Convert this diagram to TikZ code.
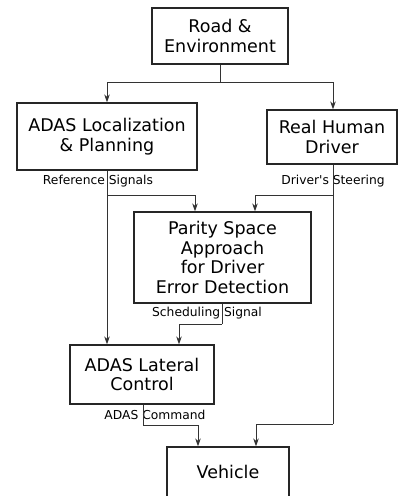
\documentclass[tikz,border=0pt]{standalone}
\usepackage{fontspec}
\setmainfont{DejaVu Sans}
\usetikzlibrary{arrows.meta}
\begin{document}
\begin{tikzpicture}[x=1pt,y=-1pt,
  txt/.style={inner sep=0pt,align=center,font=\fontsize{17.5}{19.5}\selectfont},
  blk/.style={txt,draw=black!85,line width=1.2pt},
  lbl/.style={inner sep=0pt,font=\fontsize{12.3}{14}\selectfont},
  ln/.style={draw=black!80,line width=1pt},
  arr/.style={ln,-{Stealth[length=8pt,width=5.5pt,inset=2.5pt]}}]
\useasboundingbox (0,0) rectangle (398,496);
\node[blk,minimum width=136pt,minimum height=56pt] (road) at (220,36) {Road \&\\Environment};
\node[blk,minimum width=180pt,minimum height=67pt] (loc) at (107,136.5) {ADAS Localization\\\& Planning};
\node[blk,minimum width=130pt,minimum height=54pt] (real) at (332,137) {Real Human\\Driver};
\node[blk,minimum width=177pt,minimum height=91pt] (par) at (222.5,257.5) {Parity Space\\Approach\\for Driver\\Error Detection};
\node[blk,minimum width=144pt,minimum height=59pt] (lat) at (142,374.5) {ADAS Lateral\\Control};
\node[blk,minimum width=122pt,minimum height=64pt] (veh) at (228,479) {};
\node[txt] (vehtext) at (228,472) {Vehicle};
% labels
\node[lbl] (refsig) at (98,181) {Reference Signals};
\node[lbl] (drvst) at (333,181) {Driver\textquotesingle s Steering};
\node[lbl] (sched) at (207,313) {Scheduling Signal};
\node[lbl] (cmd) at (155,415) {ADAS Command};
% junctions
\coordinate (j1) at (220,82);
\coordinate (j2) at (107,195);
\coordinate (j3) at (333,195);
\coordinate (j4) at (222,324);
\coordinate (j5) at (143,425);
\coordinate (j6) at (333,424);
% connectors
\draw[ln] (road.south) -- (j1);
\draw[arr] (j1) -| (loc.north);
\draw[arr] (j1) -| ([xshift=1pt]real.north);
\draw[arr] (loc.south) -- (loc.south |- lat.north);
\draw[arr] (j2) -| ([xshift=-27.5pt]par.north);
\draw[ln] ([xshift=1pt]real.south) -- (j6);
\draw[arr] (j3) -| ([xshift=32.5pt]par.north);
\draw[ln] ([xshift=-0.5pt]par.south) -- (j4);
\draw[arr] (j4) -| ([xshift=37pt]lat.north);
\draw[ln] ([xshift=1pt]lat.south) -- (j5);
\draw[arr] (j5) -| ([xshift=-30pt]veh.north);
\draw[arr] (j6) -| ([xshift=28pt]veh.north);
\end{tikzpicture}
\end{document}
